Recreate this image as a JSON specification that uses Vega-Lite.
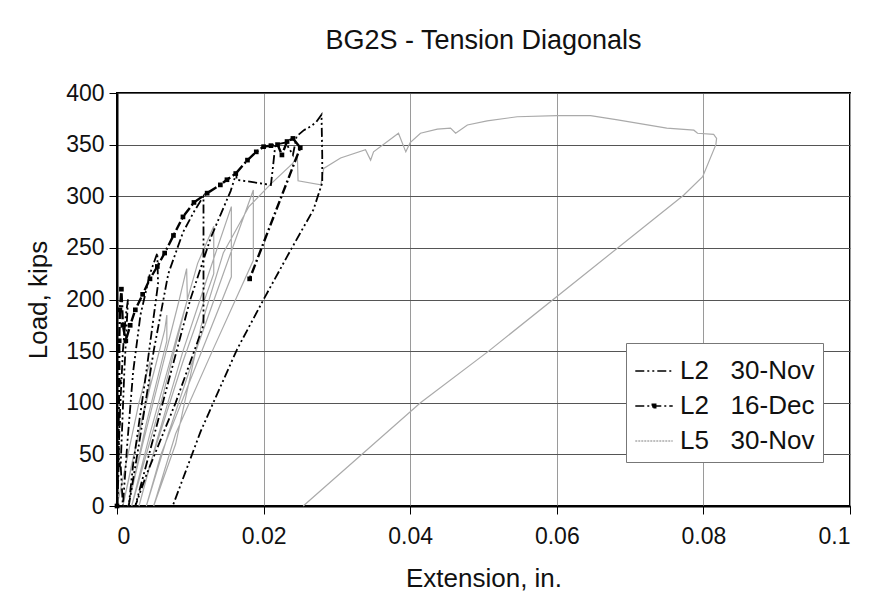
{
  "$schema": "https://vega.github.io/schema/vega-lite/v6.json",
  "autosize": "none",
  "width": 733,
  "height": 413,
  "padding": {"left": 117, "top": 93, "right": 19, "bottom": 104},
  "background": "white",
  "title": {"text": "BG2S - Tension Diagonals", "fontSize": 27, "font": "Liberation Sans", "fontWeight": "normal", "color": "#111", "offset": 27},
  "config": {
    "view": {"stroke": "#000", "strokeWidth": 2},
    "font": "Liberation Sans"
  },
  "datasets": {
    "s1": [
      {"s":"L2 30-Nov","i":1,"x":0,"y":0},
      {"s":"L2 30-Nov","i":2,"x":0.0004,"y":90},
      {"s":"L2 30-Nov","i":3,"x":0.0008,"y":150},
      {"s":"L2 30-Nov","i":4,"x":0.0012,"y":185},
      {"s":"L2 30-Nov","i":5,"x":0.0015,"y":200},
      {"s":"L2 30-Nov","i":6,"x":0.0010,"y":130},
      {"s":"L2 30-Nov","i":7,"x":0.0005,"y":40},
      {"s":"L2 30-Nov","i":8,"x":0.0008,"y":0},
      {"s":"L2 30-Nov","i":9,"x":0.0014,"y":60},
      {"s":"L2 30-Nov","i":10,"x":0.0022,"y":130},
      {"s":"L2 30-Nov","i":11,"x":0.0032,"y":185},
      {"s":"L2 30-Nov","i":12,"x":0.0045,"y":225},
      {"s":"L2 30-Nov","i":13,"x":0.0055,"y":245},
      {"s":"L2 30-Nov","i":14,"x":0.0056,"y":215},
      {"s":"L2 30-Nov","i":15,"x":0.0040,"y":130},
      {"s":"L2 30-Nov","i":16,"x":0.0022,"y":40},
      {"s":"L2 30-Nov","i":17,"x":0.0016,"y":0},
      {"s":"L2 30-Nov","i":18,"x":0.0030,"y":60},
      {"s":"L2 30-Nov","i":19,"x":0.0050,"y":150},
      {"s":"L2 30-Nov","i":20,"x":0.0070,"y":225},
      {"s":"L2 30-Nov","i":21,"x":0.0090,"y":265},
      {"s":"L2 30-Nov","i":22,"x":0.0105,"y":285},
      {"s":"L2 30-Nov","i":23,"x":0.0118,"y":300},
      {"s":"L2 30-Nov","i":24,"x":0.0118,"y":240},
      {"s":"L2 30-Nov","i":25,"x":0.0118,"y":175},
      {"s":"L2 30-Nov","i":26,"x":0.0080,"y":100},
      {"s":"L2 30-Nov","i":27,"x":0.0040,"y":30},
      {"s":"L2 30-Nov","i":28,"x":0.0025,"y":0},
      {"s":"L2 30-Nov","i":29,"x":0.0040,"y":40},
      {"s":"L2 30-Nov","i":30,"x":0.0070,"y":120},
      {"s":"L2 30-Nov","i":31,"x":0.0100,"y":200},
      {"s":"L2 30-Nov","i":32,"x":0.0128,"y":260},
      {"s":"L2 30-Nov","i":33,"x":0.0155,"y":305},
      {"s":"L2 30-Nov","i":34,"x":0.0163,"y":323},
      {"s":"L2 30-Nov","i":35,"x":0.0163,"y":316},
      {"s":"L2 30-Nov","i":36,"x":0.0210,"y":311},
      {"s":"L2 30-Nov","i":37,"x":0.0213,"y":330},
      {"s":"L2 30-Nov","i":38,"x":0.0216,"y":350},
      {"s":"L2 30-Nov","i":39,"x":0.0230,"y":352},
      {"s":"L2 30-Nov","i":40,"x":0.0240,"y":340},
      {"s":"L2 30-Nov","i":41,"x":0.0245,"y":358},
      {"s":"L2 30-Nov","i":42,"x":0.0255,"y":364},
      {"s":"L2 30-Nov","i":43,"x":0.0265,"y":368},
      {"s":"L2 30-Nov","i":44,"x":0.0272,"y":372},
      {"s":"L2 30-Nov","i":45,"x":0.0279,"y":379},
      {"s":"L2 30-Nov","i":46,"x":0.0280,"y":340},
      {"s":"L2 30-Nov","i":47,"x":0.0280,"y":313},
      {"s":"L2 30-Nov","i":48,"x":0.0268,"y":287},
      {"s":"L2 30-Nov","i":49,"x":0.0237,"y":248},
      {"s":"L2 30-Nov","i":50,"x":0.0200,"y":200},
      {"s":"L2 30-Nov","i":51,"x":0.0164,"y":152},
      {"s":"L2 30-Nov","i":52,"x":0.0132,"y":101},
      {"s":"L2 30-Nov","i":53,"x":0.0114,"y":72},
      {"s":"L2 30-Nov","i":54,"x":0.0076,"y":0}
    ],
    "s2": [
      {"s":"L2 16-Dec","i":1,"x":0,"y":0},
      {"s":"L2 16-Dec","i":2,"x":0.0002,"y":40},
      {"s":"L2 16-Dec","i":3,"x":0.0002,"y":80},
      {"s":"L2 16-Dec","i":4,"x":0.0003,"y":120},
      {"s":"L2 16-Dec","i":5,"x":0.0003,"y":160},
      {"s":"L2 16-Dec","i":6,"x":0.0004,"y":190},
      {"s":"L2 16-Dec","i":7,"x":0.0006,"y":210},
      {"s":"L2 16-Dec","i":8,"x":0.0008,"y":175},
      {"s":"L2 16-Dec","i":9,"x":0.0012,"y":160},
      {"s":"L2 16-Dec","i":10,"x":0.0018,"y":175},
      {"s":"L2 16-Dec","i":11,"x":0.0025,"y":190},
      {"s":"L2 16-Dec","i":12,"x":0.0035,"y":205},
      {"s":"L2 16-Dec","i":13,"x":0.0045,"y":220},
      {"s":"L2 16-Dec","i":14,"x":0.0055,"y":232},
      {"s":"L2 16-Dec","i":15,"x":0.0065,"y":245},
      {"s":"L2 16-Dec","i":16,"x":0.0077,"y":262},
      {"s":"L2 16-Dec","i":17,"x":0.0090,"y":280},
      {"s":"L2 16-Dec","i":18,"x":0.0105,"y":294},
      {"s":"L2 16-Dec","i":19,"x":0.0123,"y":303},
      {"s":"L2 16-Dec","i":20,"x":0.0141,"y":311},
      {"s":"L2 16-Dec","i":21,"x":0.0150,"y":316},
      {"s":"L2 16-Dec","i":22,"x":0.0162,"y":322},
      {"s":"L2 16-Dec","i":23,"x":0.0178,"y":335},
      {"s":"L2 16-Dec","i":24,"x":0.0190,"y":343},
      {"s":"L2 16-Dec","i":25,"x":0.0200,"y":348},
      {"s":"L2 16-Dec","i":26,"x":0.0210,"y":349},
      {"s":"L2 16-Dec","i":27,"x":0.0219,"y":350},
      {"s":"L2 16-Dec","i":28,"x":0.0225,"y":340},
      {"s":"L2 16-Dec","i":29,"x":0.0232,"y":353},
      {"s":"L2 16-Dec","i":30,"x":0.0240,"y":356},
      {"s":"L2 16-Dec","i":31,"x":0.0250,"y":347},
      {"s":"L2 16-Dec","i":32,"x":0.0181,"y":220}
    ],
    "s3": [
      {"s":"L5 30-Nov","i":1,"x":0,"y":0},
      {"s":"L5 30-Nov","i":2,"x":0.0015,"y":50},
      {"s":"L5 30-Nov","i":3,"x":0.003,"y":100},
      {"s":"L5 30-Nov","i":4,"x":0.0045,"y":140},
      {"s":"L5 30-Nov","i":5,"x":0.0045,"y":120},
      {"s":"L5 30-Nov","i":6,"x":0.002,"y":40},
      {"s":"L5 30-Nov","i":7,"x":0.0008,"y":0},
      {"s":"L5 30-Nov","i":8,"x":0.0025,"y":55},
      {"s":"L5 30-Nov","i":9,"x":0.0045,"y":115},
      {"s":"L5 30-Nov","i":10,"x":0.0065,"y":170},
      {"s":"L5 30-Nov","i":11,"x":0.0068,"y":185},
      {"s":"L5 30-Nov","i":12,"x":0.0068,"y":160},
      {"s":"L5 30-Nov","i":13,"x":0.004,"y":80},
      {"s":"L5 30-Nov","i":14,"x":0.0015,"y":0},
      {"s":"L5 30-Nov","i":15,"x":0.0035,"y":60},
      {"s":"L5 30-Nov","i":16,"x":0.006,"y":130},
      {"s":"L5 30-Nov","i":17,"x":0.0085,"y":200},
      {"s":"L5 30-Nov","i":18,"x":0.0095,"y":230},
      {"s":"L5 30-Nov","i":19,"x":0.0096,"y":200},
      {"s":"L5 30-Nov","i":20,"x":0.006,"y":100},
      {"s":"L5 30-Nov","i":21,"x":0.002,"y":0},
      {"s":"L5 30-Nov","i":22,"x":0.0045,"y":70},
      {"s":"L5 30-Nov","i":23,"x":0.008,"y":160},
      {"s":"L5 30-Nov","i":24,"x":0.011,"y":235},
      {"s":"L5 30-Nov","i":25,"x":0.0132,"y":271},
      {"s":"L5 30-Nov","i":26,"x":0.0132,"y":225},
      {"s":"L5 30-Nov","i":27,"x":0.009,"y":140},
      {"s":"L5 30-Nov","i":28,"x":0.0045,"y":40},
      {"s":"L5 30-Nov","i":29,"x":0.003,"y":0},
      {"s":"L5 30-Nov","i":30,"x":0.0055,"y":65},
      {"s":"L5 30-Nov","i":31,"x":0.009,"y":150},
      {"s":"L5 30-Nov","i":32,"x":0.0125,"y":225},
      {"s":"L5 30-Nov","i":33,"x":0.0156,"y":290},
      {"s":"L5 30-Nov","i":34,"x":0.0156,"y":222},
      {"s":"L5 30-Nov","i":35,"x":0.011,"y":140},
      {"s":"L5 30-Nov","i":36,"x":0.006,"y":50},
      {"s":"L5 30-Nov","i":37,"x":0.004,"y":0},
      {"s":"L5 30-Nov","i":38,"x":0.007,"y":70},
      {"s":"L5 30-Nov","i":39,"x":0.011,"y":155},
      {"s":"L5 30-Nov","i":40,"x":0.0145,"y":225},
      {"s":"L5 30-Nov","i":41,"x":0.0186,"y":306},
      {"s":"L5 30-Nov","i":42,"x":0.0186,"y":238},
      {"s":"L5 30-Nov","i":43,"x":0.013,"y":150},
      {"s":"L5 30-Nov","i":44,"x":0.008,"y":70},
      {"s":"L5 30-Nov","i":45,"x":0.005,"y":0},
      {"s":"L5 30-Nov","i":46,"x":0.008,"y":60},
      {"s":"L5 30-Nov","i":47,"x":0.0115,"y":175},
      {"s":"L5 30-Nov","i":48,"x":0.0145,"y":245},
      {"s":"L5 30-Nov","i":49,"x":0.018,"y":290},
      {"s":"L5 30-Nov","i":50,"x":0.021,"y":312},
      {"s":"L5 30-Nov","i":51,"x":0.024,"y":332},
      {"s":"L5 30-Nov","i":52,"x":0.0246,"y":340},
      {"s":"L5 30-Nov","i":53,"x":0.0247,"y":315},
      {"s":"L5 30-Nov","i":54,"x":0.0278,"y":311},
      {"s":"L5 30-Nov","i":55,"x":0.0282,"y":327},
      {"s":"L5 30-Nov","i":56,"x":0.0305,"y":337},
      {"s":"L5 30-Nov","i":57,"x":0.0339,"y":345},
      {"s":"L5 30-Nov","i":58,"x":0.0346,"y":335},
      {"s":"L5 30-Nov","i":59,"x":0.035,"y":343},
      {"s":"L5 30-Nov","i":60,"x":0.0384,"y":361},
      {"s":"L5 30-Nov","i":61,"x":0.0394,"y":343},
      {"s":"L5 30-Nov","i":62,"x":0.04,"y":352},
      {"s":"L5 30-Nov","i":63,"x":0.0414,"y":361},
      {"s":"L5 30-Nov","i":64,"x":0.0437,"y":365},
      {"s":"L5 30-Nov","i":65,"x":0.0455,"y":366},
      {"s":"L5 30-Nov","i":66,"x":0.0462,"y":361},
      {"s":"L5 30-Nov","i":67,"x":0.0478,"y":369},
      {"s":"L5 30-Nov","i":68,"x":0.0505,"y":373},
      {"s":"L5 30-Nov","i":69,"x":0.0546,"y":377},
      {"s":"L5 30-Nov","i":70,"x":0.06,"y":378},
      {"s":"L5 30-Nov","i":71,"x":0.0646,"y":378},
      {"s":"L5 30-Nov","i":72,"x":0.0683,"y":374},
      {"s":"L5 30-Nov","i":73,"x":0.075,"y":366},
      {"s":"L5 30-Nov","i":74,"x":0.0787,"y":364},
      {"s":"L5 30-Nov","i":75,"x":0.0792,"y":361},
      {"s":"L5 30-Nov","i":76,"x":0.0814,"y":360},
      {"s":"L5 30-Nov","i":77,"x":0.0818,"y":356},
      {"s":"L5 30-Nov","i":78,"x":0.0817,"y":350},
      {"s":"L5 30-Nov","i":79,"x":0.0799,"y":319},
      {"s":"L5 30-Nov","i":80,"x":0.0773,"y":301},
      {"s":"L5 30-Nov","i":81,"x":0.0507,"y":150},
      {"s":"L5 30-Nov","i":82,"x":0.0414,"y":100},
      {"s":"L5 30-Nov","i":83,"x":0.0254,"y":0}
    ]
  },
  "data": {"name": "s3"},
  "encoding": {
    "x": {"field": "x", "type": "quantitative", "scale": {"domain": [0, 0.1], "nice": false},
      "axis": {"title": "Extension, in.", "values": [0, 0.02, 0.04, 0.06, 0.08, 0.1], "format": ".2~f",
        "labelFontSize": 23, "titleFontSize": 26, "titleFontWeight": "normal", "labelColor": "#111", "titleColor": "#111",
        "domainColor": "#000", "domainWidth": 2, "tickColor": "#000", "tickSize": 8, "labelPadding": 11, "titlePadding": 17,
        "grid": true, "gridColor": "#9a9a9a", "gridWidth": 1}},
    "y": {"field": "y", "type": "quantitative", "scale": {"domain": [0, 400], "nice": false},
      "axis": {"title": "Load, kips", "values": [0, 50, 100, 150, 200, 250, 300, 350, 400],
        "labelFontSize": 23, "titleFontSize": 26, "titleFontWeight": "normal", "labelColor": "#111", "titleColor": "#111",
        "domainColor": "#000", "domainWidth": 2, "tickColor": "#000", "tickSize": 8, "labelPadding": 5, "titlePadding": 14,
        "grid": true, "gridColor": "#555", "gridWidth": 1}}
  },
  "layer": [
    {
      "data": {"name": "s3"},
      "mark": {"type": "line", "strokeWidth": 1.2, "color": "#aaaaaa"},
      "encoding": {"order": {"field": "i", "type": "quantitative"}}
    },
    {
      "data": {"name": "s1"},
      "mark": {"type": "line", "strokeWidth": 1.8, "color": "#000", "strokeDash": [9, 3, 2, 3, 2, 3]},
      "encoding": {"order": {"field": "i", "type": "quantitative"}}
    },
    {
      "data": {"name": "s2"},
      "mark": {"type": "line", "strokeWidth": 2.4, "color": "#000", "strokeDash": [9, 3, 2, 3]},
      "encoding": {"order": {"field": "i", "type": "quantitative"}}
    },
    {
      "data": {"name": "s2"},
      "mark": {"type": "point", "shape": "square", "filled": true, "size": 22, "color": "#000", "opacity": 1},
      "encoding": {}
    },
    {
      "data": {"values": [
        {"s":"L2 30-Nov","x":0,"y":0},
        {"s":"L2 16-Dec","x":0,"y":0},
        {"s":"L5 30-Nov","x":0,"y":0}
      ]},
      "mark": {"type": "line", "opacity": 0},
      "encoding": {
        "color": {"field": "s", "type": "nominal", "sort": null,
          "scale": {"domain": ["L2 30-Nov", "L2 16-Dec", "L5 30-Nov"], "range": ["#000000", "#000000", "#aaaaaa"]},
          "legend": {
            "title": null, "orient": "none", "legendX": 509, "legendY": 250,
            "fillColor": "white", "strokeColor": "#777", "padding": 8,
            "labelFontSize": 26, "labelFont": "Liberation Sans", "labelColor": "#111", "labelOffset": 6,
            "symbolType": "stroke", "symbolSize": 1400, "symbolOpacity": 1, "symbolStrokeWidth": 1.6, "rowPadding": 2,
            "labelExpr": "replace(datum.label, ' ', '\u00a0\u00a0 ')",
            "encode": {"symbols": {"update": {
              "strokeDash": {"signal": "datum.value === 'L2 30-Nov' ? [9,3,2,3,2,3] : datum.value === 'L2 16-Dec' ? [9,3,2,3] : [2,1]"},
              "shape": {"signal": "datum.value === 'L2 16-Dec' ? 'M-1,0H1M-0.09,-0.09H0.09V0.09H-0.09Z' : 'stroke'"},
              "fill": {"signal": "datum.value === 'L2 16-Dec' ? '#000' : 'transparent'"}
            }}}
          }
        }
      }
    }
  ]
}
